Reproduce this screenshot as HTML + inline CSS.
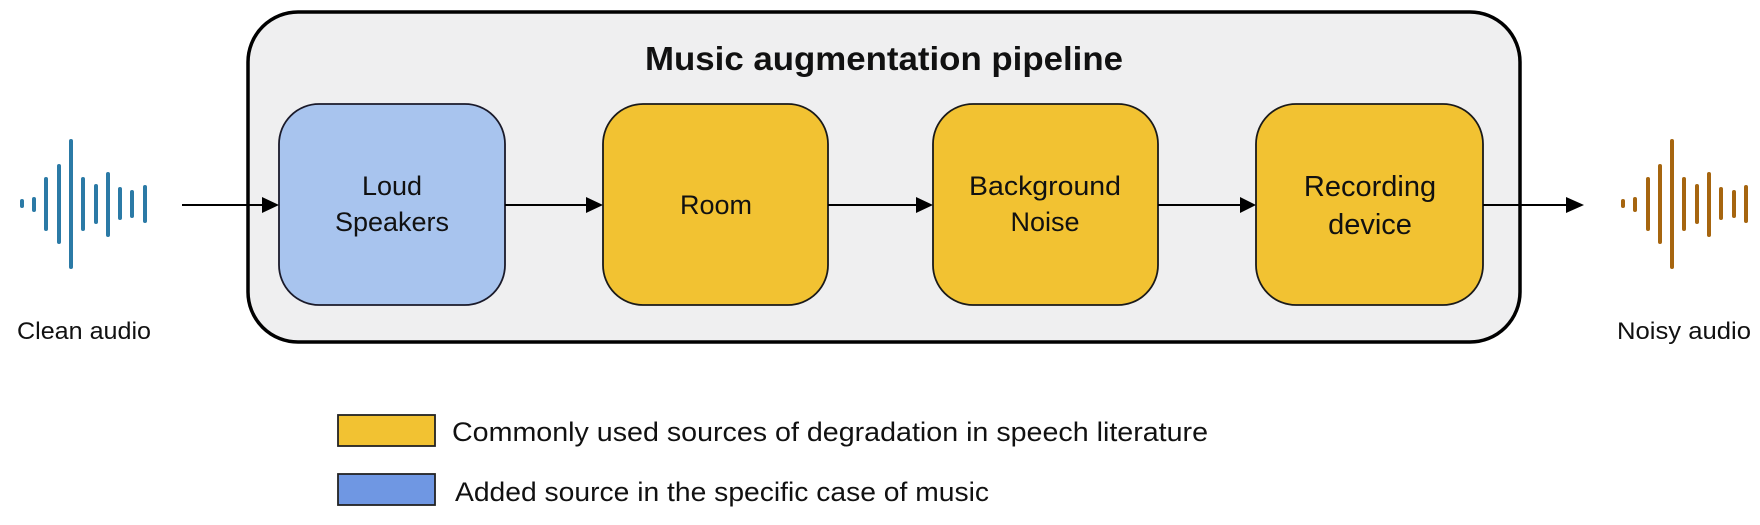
<!DOCTYPE html>
<html><head><meta charset="utf-8"><style>
html,body{margin:0;padding:0;background:#fff;width:1760px;height:525px;overflow:hidden}
svg{display:block}
text{font-family:"Liberation Sans",sans-serif;fill:#111}
</style></head><body>
<svg width="1760" height="525" viewBox="0 0 1760 525" xmlns="http://www.w3.org/2000/svg">
<rect x="248" y="12" width="1272" height="330" rx="50" ry="50" fill="#efeff0" stroke="#000" stroke-width="3.5"/>
<text x="884" y="70" font-size="33" font-weight="bold" text-anchor="middle" textLength="478" lengthAdjust="spacingAndGlyphs">Music augmentation pipeline</text>

<rect x="279" y="104" width="226" height="201" rx="40" fill="#a8c4ee" stroke="#1a1a2a" stroke-width="1.8"/>
<rect x="603" y="104" width="225" height="201" rx="40" fill="#f2c232" stroke="#1a1a1a" stroke-width="1.8"/>
<rect x="933" y="104" width="225" height="201" rx="40" fill="#f2c232" stroke="#1a1a1a" stroke-width="1.8"/>
<rect x="1256" y="104" width="227" height="201" rx="40" fill="#f2c232" stroke="#1a1a1a" stroke-width="1.8"/>

<g font-size="27" text-anchor="middle">
<text x="392" y="195">Loud</text>
<text x="392" y="231">Speakers</text>
<text x="716" y="214">Room</text>
<text x="1045" y="195" textLength="152" lengthAdjust="spacingAndGlyphs">Background</text>
<text x="1045" y="231">Noise</text>
<text x="1370" y="196" font-size="29">Recording</text>
<text x="1370" y="234" font-size="29">device</text>
</g>

<g stroke="#000" stroke-width="2">
<line x1="182" y1="205" x2="262" y2="205"/>
<line x1="505" y1="205" x2="586" y2="205"/>
<line x1="828" y1="205" x2="916" y2="205"/>
<line x1="1158" y1="205" x2="1240" y2="205"/>
<line x1="1483" y1="205" x2="1566" y2="205"/>
</g>
<g fill="#000">
<path d="M262,197 L279,205 L262,213 Z"/>
<path d="M586,197 L603,205 L586,213 Z"/>
<path d="M916,197 L933,205 L916,213 Z"/>
<path d="M1240,197 L1256,205 L1240,213 Z"/>
<path d="M1566,197 L1584,205 L1566,213 Z"/>
</g>

<g stroke="#2b7aa6" stroke-width="4" stroke-linecap="round">
<line x1="22" y1="201" x2="22" y2="206"/>
<line x1="34" y1="199" x2="34" y2="210"/>
<line x1="46" y1="179" x2="46" y2="229"/>
<line x1="59" y1="166" x2="59" y2="242"/>
<line x1="71" y1="141" x2="71" y2="267"/>
<line x1="83" y1="179" x2="83" y2="229"/>
<line x1="96" y1="186" x2="96" y2="222"/>
<line x1="108" y1="174" x2="108" y2="235"/>
<line x1="120" y1="189" x2="120" y2="218"/>
<line x1="132" y1="192" x2="132" y2="216"/>
<line x1="145" y1="187" x2="145" y2="221"/>
</g>
<g stroke="#a6650f" stroke-width="4" stroke-linecap="round">
<line x1="1623" y1="201" x2="1623" y2="206"/>
<line x1="1635" y1="199" x2="1635" y2="210"/>
<line x1="1648" y1="179" x2="1648" y2="229"/>
<line x1="1660" y1="166" x2="1660" y2="242"/>
<line x1="1672" y1="141" x2="1672" y2="267"/>
<line x1="1684" y1="179" x2="1684" y2="229"/>
<line x1="1697" y1="186" x2="1697" y2="222"/>
<line x1="1709" y1="174" x2="1709" y2="235"/>
<line x1="1721" y1="189" x2="1721" y2="218"/>
<line x1="1734" y1="192" x2="1734" y2="216"/>
<line x1="1746" y1="187" x2="1746" y2="221"/>
</g>

<text x="84" y="339" font-size="24" text-anchor="middle" textLength="134" lengthAdjust="spacingAndGlyphs">Clean audio</text>
<text x="1684" y="339" font-size="24" text-anchor="middle" textLength="134" lengthAdjust="spacingAndGlyphs">Noisy audio</text>

<rect x="338" y="415" width="97" height="31" fill="#f2c232" stroke="#222" stroke-width="1.8"/>
<rect x="338" y="474" width="97" height="31" fill="#6f97e3" stroke="#222" stroke-width="1.8"/>
<text x="452" y="441" font-size="27" textLength="756" lengthAdjust="spacingAndGlyphs">Commonly used sources of degradation in speech literature</text>
<text x="455" y="501" font-size="27" textLength="534" lengthAdjust="spacingAndGlyphs">Added source in the  specific case of music</text>
</svg>
</body></html>
